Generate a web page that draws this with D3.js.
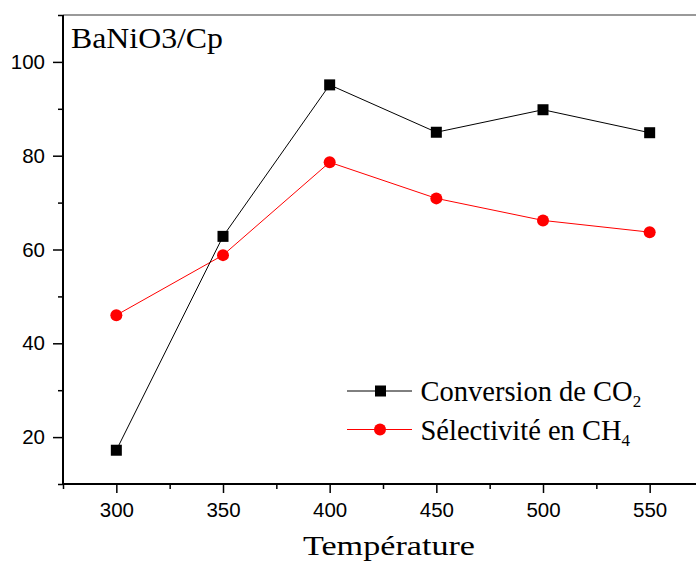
<!DOCTYPE html>
<html>
<head>
<meta charset="utf-8">
<script src="https://cdn.jsdelivr.net/npm/d3@7"></script>
<style>
  html, body { margin: 0; padding: 0; background: #fff; }
  svg { display: block; }
</style>
</head>
<body>
<svg id="chart" width="696" height="563"></svg>
<script>
// Temperatures (°C) and measured values (%)
const temperatures = [300, 350, 400, 450, 500, 550];
const conversionCO2 = [17.2, 62.8, 95.1, 85.0, 89.8, 84.9];
const selectiviteCH4 = [46.0, 58.8, 78.6, 70.9, 66.2, 63.7];
const xTicks = [300, 350, 400, 450, 500, 550];
const yTicks = [20, 40, 60, 80, 100];

const svg = d3.select("#chart");
const margin = { left: 63, top: 15, bottom: 484 };
const serif = "'Liberation Serif', 'Times New Roman', serif";

const x = d3.scaleLinear().domain([275, 575]).range([margin.left, 703]);
const y = d3.scaleLinear().domain([10, 110]).range([margin.bottom, margin.top]);

// Top frame line
svg.append("line")
  .attr("x1", margin.left).attr("x2", 696)
  .attr("y1", margin.top).attr("y2", margin.top)
  .attr("stroke", "#777").attr("stroke-width", 1.5);

// Minor ticks between the labelled ones
const xMinor = d3.range(275, 576, 25).filter(v => !xTicks.includes(v));
const yMinor = d3.range(10, 111, 10).filter(v => !yTicks.includes(v));

const xAxisG = svg.append("g").attr("transform", `translate(0,${margin.bottom})`);
xAxisG.call(d3.axisBottom(x).tickValues(xMinor).tickSize(5).tickFormat(""))
  .call(g => g.select(".domain").remove());
xAxisG.append("g").call(d3.axisBottom(x).tickValues(xTicks).tickSize(9).tickPadding(9).tickFormat(d3.format("d")))
  .call(g => g.select(".domain").remove());
xAxisG.append("line").attr("x1", margin.left - 1).attr("x2", 696).attr("stroke", "#000").attr("stroke-width", 2);

const yAxisG = svg.append("g").attr("transform", `translate(${margin.left},0)`);
yAxisG.call(d3.axisLeft(y).tickValues(yMinor).tickSize(5).tickFormat(""))
  .call(g => g.select(".domain").remove());
yAxisG.append("g").call(d3.axisLeft(y).tickValues(yTicks).tickSize(10).tickPadding(8).tickFormat(d3.format("d")))
  .call(g => g.select(".domain").remove());
yAxisG.append("line").attr("y1", margin.top).attr("y2", margin.bottom + 1).attr("stroke", "#000").attr("stroke-width", 2);

svg.selectAll(".tick line").attr("stroke", "#000").attr("stroke-width", 1.5);
svg.selectAll(".tick text")
  .attr("font-family", "'Liberation Sans', Arial, sans-serif")
  .attr("font-size", 20.5).attr("fill", "#000");

// Series lines and markers
const line = d3.line().x((d, i) => x(temperatures[i])).y(d => y(d));

svg.append("path").datum(selectiviteCH4)
  .attr("d", line).attr("fill", "none").attr("stroke", "#ff0000").attr("stroke-width", 1);
svg.append("path").datum(conversionCO2)
  .attr("d", line).attr("fill", "none").attr("stroke", "#000").attr("stroke-width", 1);

svg.selectAll(".sq").data(conversionCO2).enter().append("rect")
  .attr("x", (d, i) => x(temperatures[i]) - 5.5)
  .attr("y", d => y(d) - 5.5)
  .attr("width", 11).attr("height", 11).attr("fill", "#000");

svg.selectAll(".ci").data(selectiviteCH4).enter().append("circle")
  .attr("cx", (d, i) => x(temperatures[i]))
  .attr("cy", d => y(d))
  .attr("r", 6).attr("fill", "#ff0000");

// Sample label inside the plot
svg.append("text").attr("x", 71).attr("y", 47.5)
  .attr("font-family", serif)
  .attr("font-size", 28.5).attr("fill", "#000")
  .attr("textLength", 152).attr("lengthAdjust", "spacingAndGlyphs")
  .text("BaNiO3/Cp");

// Axis title
svg.append("text").attr("x", 303).attr("y", 555)
  .attr("font-family", serif)
  .attr("font-size", 27.5).attr("fill", "#000")
  .attr("textLength", 172).attr("lengthAdjust", "spacingAndGlyphs")
  .text("Température");

// Legend
const legend = svg.append("g").attr("font-family", serif).attr("font-size", 28.5).attr("fill", "#000");
const ly1 = 391, ly2 = 429.5;
legend.append("line").attr("x1", 347).attr("x2", 412).attr("y1", ly1).attr("y2", ly1).attr("stroke", "#000").attr("stroke-width", 1);
legend.append("rect").attr("x", 375).attr("y", ly1 - 5.5).attr("width", 11).attr("height", 11).attr("fill", "#000");
const t1 = legend.append("text").attr("x", 420.5).attr("y", 400.5);
t1.append("tspan").text("Conversion de CO");
t1.append("tspan").attr("font-size", 17).attr("dy", 6.5).text("2");

legend.append("line").attr("x1", 347).attr("x2", 412).attr("y1", ly2).attr("y2", ly2).attr("stroke", "#ff0000").attr("stroke-width", 1);
legend.append("circle").attr("cx", 380).attr("cy", ly2).attr("r", 6).attr("fill", "#ff0000");
const t2 = legend.append("text").attr("x", 420.5).attr("y", 439.5);
t2.append("tspan").text("Sélectivité en CH");
t2.append("tspan").attr("font-size", 17).attr("dy", 6.5).text("4");
</script>
</body>
</html>
